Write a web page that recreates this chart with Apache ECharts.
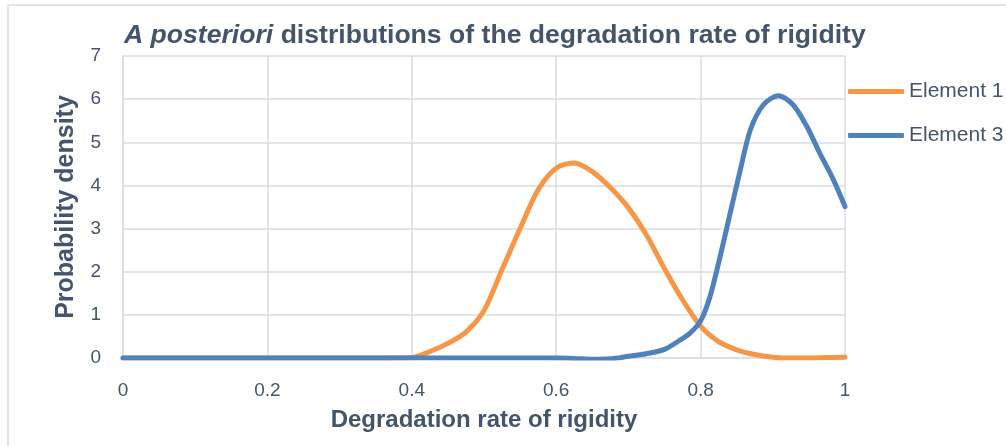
<!DOCTYPE html>
<html>
<head>
<meta charset="utf-8">
<script src="https://cdn.jsdelivr.net/npm/echarts@6/dist/echarts.min.js"></script>
<style>
html,body{margin:0;padding:0;background:#fff;}
#c{width:1006px;height:446px;}
</style>
</head>
<body>
<div id="c"></div>
<script>
// Data
var xTicks = [0, 0.2, 0.4, 0.6, 0.8, 1];
var yTicks = [0, 1, 2, 3, 4, 5, 6, 7];

var element1X = [0, 0.1, 0.2, 0.3, 0.35, 0.4, 0.425, 0.45, 0.475, 0.5, 0.525, 0.55, 0.575, 0.6, 0.625, 0.65, 0.675, 0.7, 0.725, 0.75, 0.775, 0.8, 0.825, 0.85, 0.875, 0.9, 0.925, 0.95, 0.975, 1.0];
var element1Y = [0, 0, 0, 0, 0, 0.01, 0.15, 0.34, 0.6, 1.1, 2.05, 3.0, 3.9, 4.4, 4.52, 4.32, 3.95, 3.48, 2.85, 2.07, 1.35, 0.74, 0.38, 0.19, 0.08, 0.02, 0, 0, 0.01, 0.02];

var element3X = [0, 0.1, 0.2, 0.3, 0.4, 0.5, 0.6, 0.625, 0.65, 0.675, 0.7, 0.725, 0.75, 0.77, 0.785, 0.8, 0.813, 0.827, 0.841, 0.855, 0.869, 0.887, 0.908, 0.928, 0.947, 0.965, 0.984, 1.0];
var element3Y = [0, 0, 0, 0, 0, 0, 0, -0.01, -0.03, -0.02, 0.04, 0.1, 0.2, 0.4, 0.57, 0.86, 1.42, 2.35, 3.36, 4.36, 5.29, 5.87, 6.08, 5.87, 5.37, 4.75, 4.13, 3.51];

var seriesNames = ['Element 1', 'Element 3'];
var titleItalic = 'A posteriori';
var titleRest = ' distributions of the degradation rate of rigidity';
var xName = 'Degradation rate of rigidity';
var yName = 'Probability density';

function pairs(xs, ys) { return xs.map(function (x, i) { return [x, ys[i]]; }); }

var textColor = '#44546A';
var gridColor = '#D9DDE3';
var narrow = '"Liberation Sans Narrow", "Arial Narrow", "Liberation Sans", sans-serif';

var chart = echarts.init(document.getElementById('c'), null, {renderer: 'canvas'});
chart.setOption({
  animation: false,
  backgroundColor: '#ffffff',
  title: {
    text: '{i|' + titleItalic + '}{b|' + titleRest + '}',
    left: 119, top: 17,
    textStyle: {
      rich: {
        i: {fontFamily: narrow, fontSize: 26.6, fontWeight: 'bold', fontStyle: 'italic', color: textColor},
        b: {fontFamily: narrow, fontSize: 26.6, fontWeight: 'bold', color: textColor}
      }
    }
  },
  graphic: [
    {type: 'line', shape: {x1: 8, y1: 5, x2: 1006, y2: 5}, style: {stroke: gridColor, lineWidth: 1.5}},
    {type: 'line', shape: {x1: 8, y1: 5, x2: 8, y2: 446}, style: {stroke: gridColor, lineWidth: 1.5}}
  ],
  legend: {
    orient: 'vertical',
    left: 843, top: 76,
    itemWidth: 56, itemHeight: 5,
    itemGap: 23,
    icon: 'roundRect',
    textStyle: {fontFamily: narrow, fontSize: 21, color: textColor},
    data: seriesNames
  },
  grid: {left: 123, right: 161, top: 56, bottom: 88, containLabel: false},
  xAxis: {
    type: 'value', min: 0, max: 1, interval: 0.2,
    name: xName, nameLocation: 'middle', nameGap: 50,
    nameTextStyle: {fontFamily: narrow, fontSize: 24, fontWeight: 'bold', color: textColor},
    axisLine: {show: true, lineStyle: {color: gridColor, width: 1.5}},
    axisTick: {show: false},
    axisLabel: {fontFamily: narrow, fontSize: 19, color: textColor, margin: 23,
      formatter: function (v) { return String(Math.round(v * 10) / 10); }},
    splitLine: {show: true, lineStyle: {color: gridColor, width: 1.5}}
  },
  yAxis: {
    type: 'value', min: 0, max: 7, interval: 1,
    name: yName, nameLocation: 'middle', nameGap: 44,
    nameTextStyle: {fontFamily: narrow, fontSize: 25, fontWeight: 'bold', color: textColor},
    axisLine: {show: true, lineStyle: {color: gridColor, width: 1.5}},
    axisTick: {show: false},
    axisLabel: {fontFamily: narrow, fontSize: 19, color: textColor, margin: 22},
    splitLine: {show: true, lineStyle: {color: gridColor, width: 1.5}}
  },
  series: [
    {
      name: seriesNames[0], type: 'line', data: pairs(element1X, element1Y),
      smooth: 0.3, showSymbol: false, symbol: 'none',
      lineStyle: {color: '#F79646', width: 5, cap: 'round', join: 'round'},
      itemStyle: {color: '#F79646'}, z: 2
    },
    {
      name: seriesNames[1], type: 'line', data: pairs(element3X, element3Y),
      smooth: 0.3, showSymbol: false, symbol: 'none',
      lineStyle: {color: '#4F81BD', width: 5, cap: 'round', join: 'round'},
      itemStyle: {color: '#4F81BD'}, z: 3
    }
  ]
});
</script>
</body>
</html>
